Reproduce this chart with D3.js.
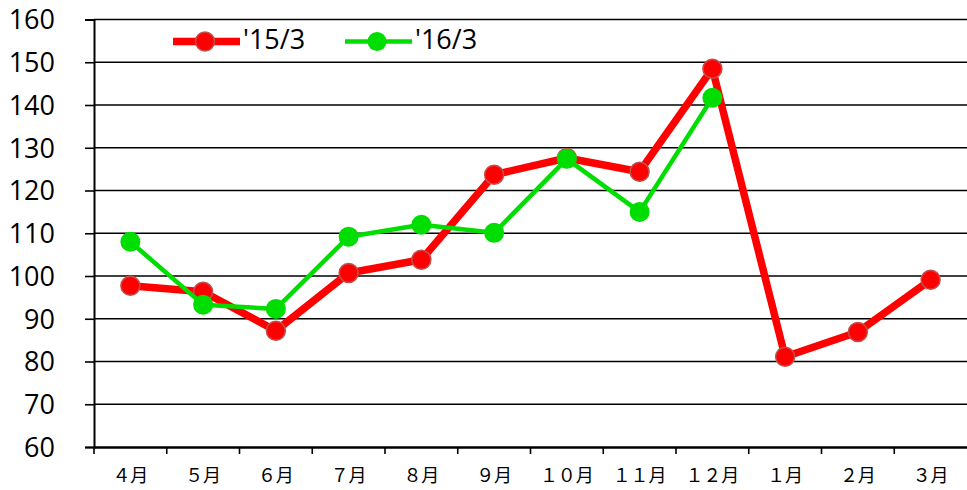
<!DOCTYPE html>
<html><head><meta charset="utf-8">
<script src="https://cdn.jsdelivr.net/npm/d3@7"></script>
<style>body{margin:0;background:#fff}svg{display:block}</style>
</head><body>
<svg id="c" width="967" height="490"></svg>
<script>
const months = ["４月","５月","６月","７月","８月","９月","１０月","１１月","１２月","１月","２月","３月"];
const s15 = [97.7,96.3,87.2,100.7,103.8,123.7,127.6,124.4,148.5,81.1,86.9,99.1];
const s16 = [108.0,93.3,92.3,109.2,112.0,110.1,127.4,115.0,141.7];
const yTicks = [60,70,80,90,100,110,120,130,140,150,160];
const seriesNames = ["'15/3","'16/3"];

const svg = d3.select("#c");
const L = 94, R = 967, T = 19.5, B = 447;
const x = d3.scaleBand().domain(months).range([L, R]);
const y = d3.scaleLinear().domain([60,160]).range([B, T]);

// gridlines
svg.append("g").selectAll("line").data(yTicks.slice(1)).join("line")
  .attr("x1", L).attr("x2", R).attr("y1", d=>y(d)).attr("y2", d=>y(d))
  .attr("stroke","#000").attr("stroke-width",1.6);

// y axis
const ya = svg.append("g").attr("transform",`translate(${L},0)`)
  .call(d3.axisLeft(y).tickValues(yTicks).tickSize(9).tickPadding(30));
ya.select(".domain").attr("stroke-width",2);
ya.selectAll(".tick line").attr("stroke-width",1.6);
ya.selectAll("text").attr("font-family","'Open Sans', sans-serif").attr("font-size",27).attr("fill","#000").attr("dy","0.35em");

// x axis
const xa = svg.append("g").attr("transform",`translate(0,${B})`)
  .call(d3.axisBottom(x).tickSize(0).tickPadding(22));
xa.select(".domain").attr("stroke-width",2.4);
xa.selectAll("text").attr("font-family","'Noto Sans CJK JP', sans-serif").attr("font-size",18).attr("fill","#000");
// tick marks at band edges
svg.append("g").selectAll("line").data(months.map((m,i)=>i)).join("line")
  .attr("x1", i=>L + i*x.step()).attr("x2", i=>L + i*x.step())
  .attr("y1", B).attr("y2", B+7).attr("stroke","#000").attr("stroke-width",1.6);

const cx = (d,i)=> x(months[i]) + x.bandwidth()/2;
const line = d3.line().x(cx).y(d=>y(d));

svg.append("path").attr("d", line(s15)).attr("fill","none").attr("stroke","#ff0000").attr("stroke-width",7.5).attr("stroke-linejoin","round");
svg.append("g").selectAll("circle").data(s15).join("circle")
  .attr("cx",cx).attr("cy",d=>y(d)).attr("r",9.5).attr("fill","#ff0000").attr("stroke","#c0504d").attr("stroke-width",1.5);

svg.append("path").attr("d", line(s16)).attr("fill","none").attr("stroke","#00dd00").attr("stroke-width",4.5).attr("stroke-linejoin","round");
svg.append("g").selectAll("circle").data(s16).join("circle")
  .attr("cx",cx).attr("cy",d=>y(d)).attr("r",10).attr("fill","#00dd00");

// legend
const lg = svg.append("g");
const items = [{name:seriesNames[0], c:"#ff0000", w:7.5, x0:173, stroke:"#c0504d"},{name:seriesNames[1], c:"#00dd00", w:4.5, x0:345, stroke:"none"}];
items.forEach(it=>{
  lg.append("line").attr("x1",it.x0).attr("x2",it.x0+67).attr("y1",41.5).attr("y2",41.5).attr("stroke",it.c).attr("stroke-width",it.w);
  lg.append("circle").attr("cx",it.x0+32).attr("cy",41.5).attr("r",9.5).attr("fill",it.c).attr("stroke",it.stroke).attr("stroke-width",1.5);
  lg.append("text").attr("x",it.x0+70).attr("y",49).text(it.name)
    .attr("font-family","'Open Sans', sans-serif").attr("font-size",27).attr("fill","#000");
});
</script>
</body></html>
